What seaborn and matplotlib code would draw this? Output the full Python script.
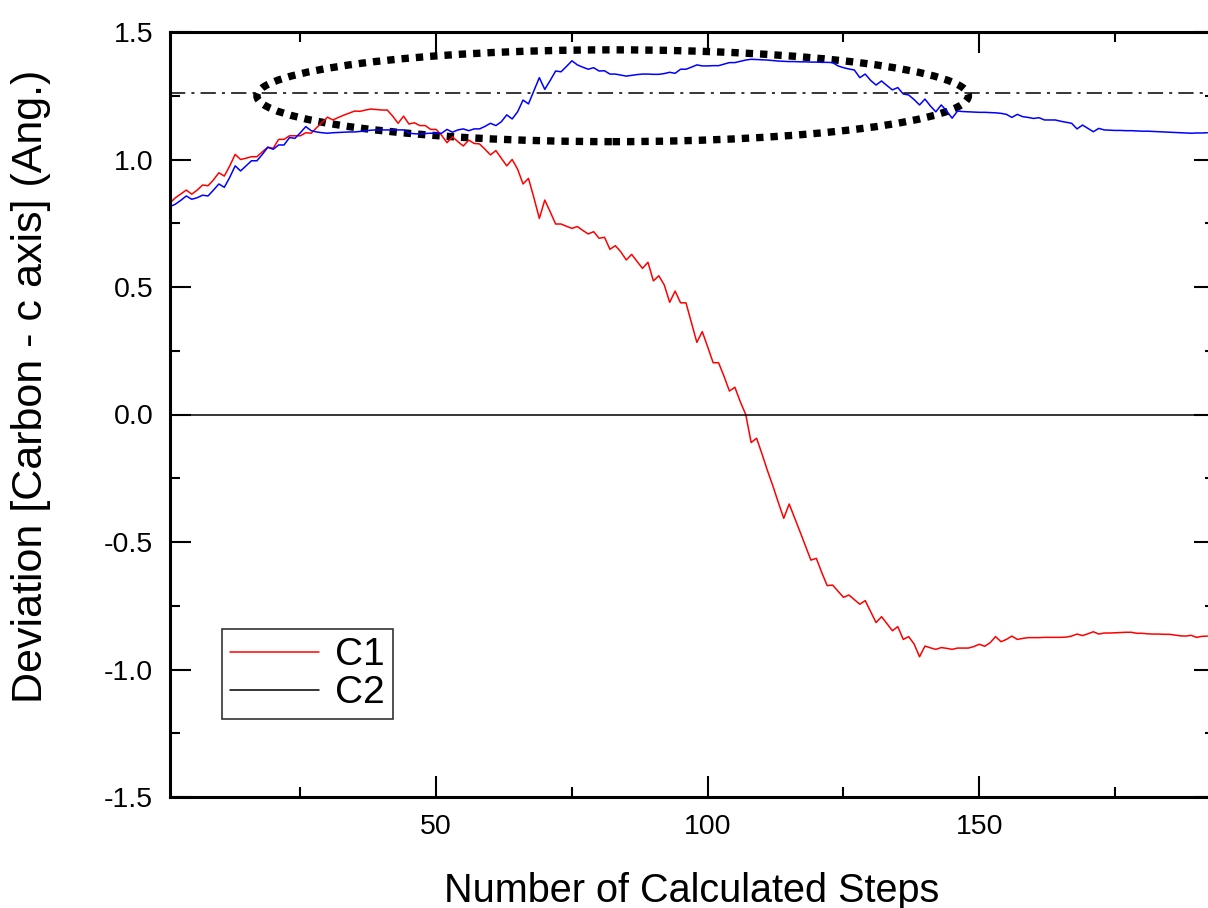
import numpy as np
import pandas as pd
import seaborn as sns
import matplotlib
matplotlib.use("Agg")
from matplotlib import pyplot as plt
from matplotlib.patches import Ellipse
from matplotlib.lines import Line2D
from matplotlib.ticker import MultipleLocator

steps = list(range(1, 193))

c1 = [0.83, 0.85, 0.865, 0.88, 0.864, 0.88, 0.90, 0.897, 0.92, 0.948,
      0.935, 0.975, 1.02, 1.0, 1.005, 1.011, 1.011, 1.03, 1.048, 1.044,
      1.079, 1.079, 1.093, 1.093, 1.093, 1.105, 1.103, 1.125, 1.145, 1.166,
      1.155, 1.165, 1.174, 1.182, 1.19, 1.189, 1.194, 1.198, 1.196, 1.194,
      1.194, 1.17, 1.142, 1.17, 1.139, 1.144, 1.133, 1.133, 1.118, 1.118,
      1.095, 1.066, 1.089, 1.07, 1.053, 1.076, 1.063, 1.061, 1.04, 1.018,
      1.035, 1.005, 0.975, 1.0, 0.962, 0.904, 0.926, 0.85, 0.769, 0.841,
      0.795, 0.747, 0.747, 0.738, 0.73, 0.737, 0.722, 0.708, 0.717, 0.691,
      0.695, 0.648, 0.662, 0.638, 0.606, 0.628, 0.60, 0.573, 0.597, 0.524,
      0.544, 0.508, 0.44, 0.484, 0.438, 0.438, 0.36, 0.283, 0.325, 0.265,
      0.203, 0.203, 0.15, 0.092, 0.107, 0.05, 0.0, -0.11, -0.093, -0.155,
      -0.22, -0.28, -0.345, -0.407, -0.351, -0.405, -0.46, -0.515, -0.571, -0.564,
      -0.62, -0.671, -0.669, -0.693, -0.717, -0.708, -0.726, -0.744, -0.73, -0.773,
      -0.816, -0.793, -0.82, -0.848, -0.832, -0.882, -0.871, -0.9, -0.95, -0.908,
      -0.915, -0.921, -0.914, -0.917, -0.921, -0.916, -0.916, -0.916, -0.91, -0.901,
      -0.909, -0.895, -0.871, -0.891, -0.882, -0.869, -0.882, -0.878, -0.875, -0.875,
      -0.875, -0.874, -0.874, -0.874, -0.874, -0.873, -0.869, -0.861, -0.867, -0.86,
      -0.852, -0.861, -0.857, -0.857, -0.856, -0.855, -0.854, -0.854, -0.858, -0.858,
      -0.86, -0.861, -0.861, -0.862, -0.862, -0.865, -0.868, -0.869, -0.866, -0.874,
      -0.87, -0.869]

c2 = [0.815, 0.825, 0.84, 0.857, 0.844, 0.85, 0.86, 0.857, 0.88, 0.904,
      0.891, 0.93, 0.975, 0.955, 0.975, 0.995, 0.995, 1.02, 1.048, 1.04,
      1.057, 1.057, 1.086, 1.083, 1.105, 1.129, 1.113, 1.108, 1.105, 1.103,
      1.105, 1.106, 1.107, 1.108, 1.108, 1.11, 1.112, 1.115, 1.116, 1.116,
      1.116, 1.116, 1.116, 1.116, 1.103, 1.101, 1.1, 1.102, 1.103, 1.103,
      1.103, 1.118, 1.107, 1.116, 1.12, 1.113, 1.12, 1.12, 1.13, 1.142,
      1.133, 1.148, 1.175, 1.159, 1.187, 1.233, 1.218, 1.27, 1.321, 1.275,
      1.31, 1.347, 1.344, 1.365, 1.387, 1.371, 1.362, 1.354, 1.36, 1.347,
      1.348, 1.335, 1.335, 1.331, 1.327, 1.33, 1.333, 1.335, 1.335, 1.334,
      1.334, 1.337, 1.342, 1.338, 1.354, 1.354, 1.362, 1.371, 1.367, 1.367,
      1.368, 1.368, 1.374, 1.38, 1.38, 1.385, 1.39, 1.393, 1.392, 1.391,
      1.39, 1.388, 1.386, 1.385, 1.384, 1.384, 1.383, 1.383, 1.382, 1.382,
      1.381, 1.381, 1.38, 1.367, 1.36, 1.355, 1.351, 1.321, 1.335, 1.31,
      1.292, 1.308, 1.29, 1.273, 1.282, 1.257, 1.253, 1.235, 1.214, 1.237,
      1.21, 1.187, 1.214, 1.19, 1.162, 1.19, 1.188, 1.187, 1.186, 1.185,
      1.185, 1.184, 1.183, 1.181, 1.177, 1.165, 1.177, 1.168, 1.165, 1.161,
      1.164, 1.155, 1.155, 1.155, 1.15, 1.146, 1.142, 1.12, 1.135, 1.122,
      1.109, 1.122, 1.116, 1.115, 1.114, 1.114, 1.113, 1.113, 1.112, 1.111,
      1.111, 1.11, 1.109, 1.108, 1.107, 1.106, 1.105, 1.104, 1.103, 1.104,
      1.104, 1.105]

ref_level = 1.26
ellipse_center = (82.5, 1.25)
ellipse_size = (131, 0.36)

df = pd.DataFrame({
    "step": steps * 2,
    "dev": c1 + c2,
    "series": ["C1"] * len(steps) + ["C2"] * len(steps),
})

sns.set_theme(style="ticks")
plt.rcParams["font.family"] = ["Liberation Sans", "DejaVu Sans"]
plt.rcParams["text.color"] = "black"
plt.rcParams["axes.labelcolor"] = "black"

fig = plt.figure(figsize=(12.08, 9.08), dpi=100)
ax = fig.add_axes([170 / 1208, 111 / 908, 1045 / 1208, 765 / 908])

sns.lineplot(data=df, x="step", y="dev", hue="series",
             palette={"C1": "#ff0000", "C2": "#0000ff"},
             linewidth=1.1, legend=False, ax=ax)

ax.axhline(0, color="black", linewidth=1.1)
ax.axhline(ref_level, color="black", linewidth=1.1, linestyle=(0, (10, 4, 2, 4)))
ax.add_patch(Ellipse(ellipse_center, ellipse_size[0], ellipse_size[1], fill=False,
                     edgecolor="black", linewidth=5.3, linestyle=(0, (1, 0.95))))

ax.set_xlim(1, 193.4)
ax.set_ylim(-1.5, 1.5)
ax.xaxis.set_major_locator(MultipleLocator(50))
ax.xaxis.set_minor_locator(MultipleLocator(25))
ax.yaxis.set_major_locator(MultipleLocator(0.5))
ax.yaxis.set_minor_locator(MultipleLocator(0.25))
ax.set_yticks([-1.5, -1.0, -0.5, 0.0, 0.5, 1.0, 1.5])
ax.set_yticklabels(["-1.5", "-1.0", "-0.5", "0.0", "0.5", "1.0", "1.5"])
ax.tick_params(which="both", direction="in", top=True, right=True, width=1.5,
               labelsize=20.5, colors="black")
ax.tick_params(which="major", length=15, pad=12)
ax.tick_params(which="minor", length=7)
for s in ax.spines.values():
    s.set_linewidth(2.2)
    s.set_color("black")

ax.set_xlabel("Number of Calculated Steps", fontsize=28.5)
ax.set_ylabel("Deviation [Carbon - c axis] (Ang.)", fontsize=31)
ax.xaxis.set_label_coords(0.499, -0.098)
ax.yaxis.set_label_coords(-0.114, 0.537)

handles = [Line2D([], [], color="#ff0000", linewidth=1.1),
           Line2D([], [], color="black", linewidth=1.1)]
leg = ax.legend(handles, ["C1", "C2"], loc="lower left", bbox_to_anchor=(0.05, 0.102),
                borderaxespad=0, fontsize=28, frameon=True, fancybox=False,
                edgecolor="black", handlelength=2.3, handletextpad=0.4,
                labelspacing=0.05, borderpad=0.2)
leg.get_frame().set_linewidth(1.2)

fig.savefig("out.png", dpi=100)
